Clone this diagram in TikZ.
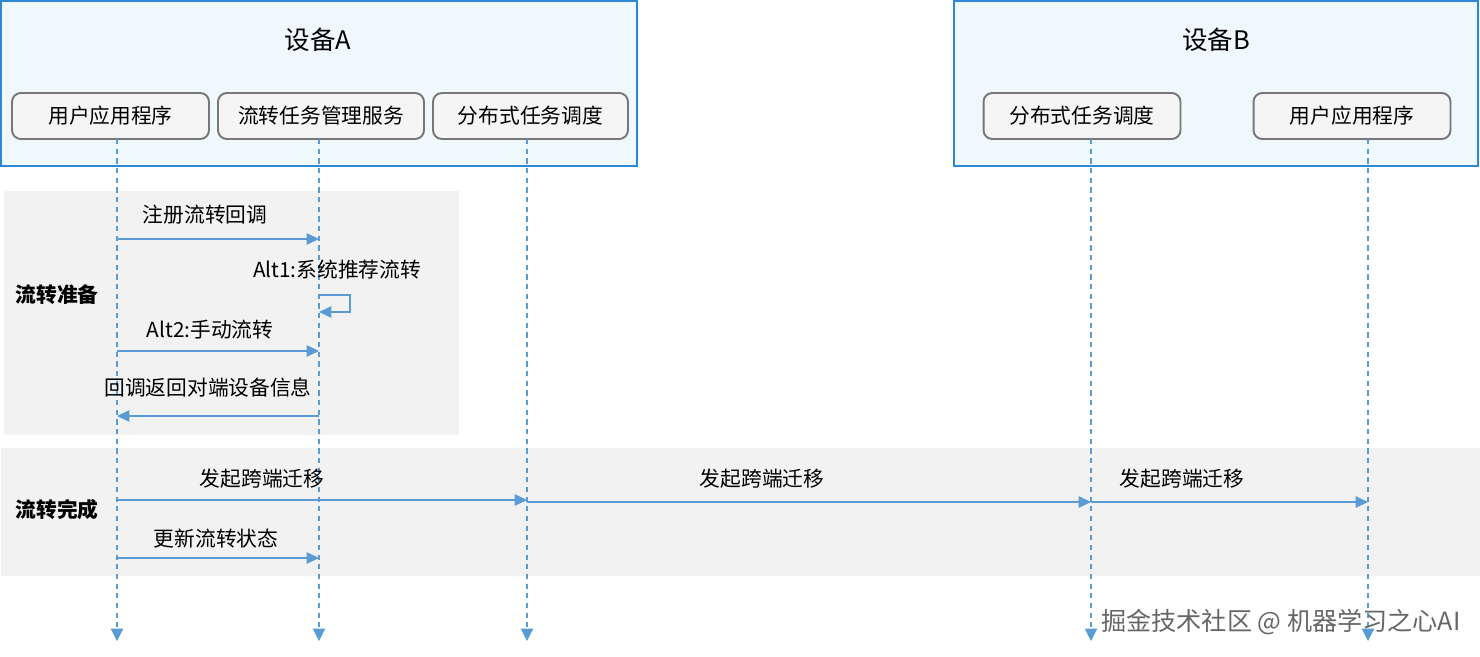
\documentclass[tikz,border=0pt]{standalone}
\usepackage{fontspec}
\setmainfont{Noto Sans CJK SC}
\usetikzlibrary{arrows.meta,positioning}
\definecolor{frameblue}{HTML}{2F88D5}
\definecolor{framefill}{HTML}{EEF8FD}
\definecolor{lifeblue}{HTML}{5B9BD5}
\definecolor{bandgray}{HTML}{F2F2F2}
\definecolor{boxgray}{HTML}{F5F5F5}
\definecolor{boxline}{HTML}{777777}

\begin{document}
\begin{tikzpicture}[x=0.02cm, y=-0.02cm,
  actor/.style={draw=boxline, line width=1.1pt, rounded corners=5pt, fill=boxgray,
                minimum width=3.94cm, minimum height=0.92cm, inner sep=0pt,
                font=\fontsize{11.8}{14}\selectfont},
  life/.style={lifeblue, line width=0.6pt, dash pattern=on 3pt off 2.5pt,
               -{Triangle[length=7pt,width=7pt]}},
  msg/.style={lifeblue, line width=0.7pt, -{Triangle[length=7pt,width=6.5pt]}},
  lbl/.style={font=\fontsize{11.8}{14}\selectfont, inner sep=0pt},
  phase/.style={font=\fontsize{11.8}{14}\selectfont\bfseries, inner sep=0pt},
]
  \useasboundingbox (0,0) rectangle (1480,656);
  % device frames
  \draw[frameblue, line width=1.2pt, fill=framefill] (1,1) rectangle (637,166);
  \draw[frameblue, line width=1.2pt, fill=framefill] (954,1) rectangle (1478,166);
  \node[font=\fontsize{14.5}{17}\selectfont] (devA) at (318,40) {设备A};
  \node[font=\fontsize{14.5}{17}\selectfont] (devB) at (1216,40) {设备B};
  % phase bands
  \fill[bandgray] (4,191) rectangle (459,435);
  \fill[bandgray] (1,448) rectangle (1480,576);
  \node[phase] (prep) at (57,295) {流转准备};
  \node[phase] (done) at (57,510) {流转完成};
  % participants
  \node[actor] (appA) at (110.5,116) {用户应用程序};
  \node[actor, minimum width=4.12cm] (mgrA) at (321,116) {流转任务管理服务};
  \node[actor, minimum width=3.9cm] (schA) at (530.5,116) {分布式任务调度};
  \node[actor] (schB) at (1082,116) {分布式任务调度};
  \node[actor] (appB) at (1352,116) {用户应用程序};
  % lifelines
  \coordinate (lA1) at (117,139);
  \coordinate (lA2) at (319,139);
  \coordinate (lA3) at (527,139);
  \coordinate (lB1) at (1091,139);
  \coordinate (lB2) at (1368,139);
  \coordinate (bot) at (0,641);
  \foreach \l in {lA1,lA2,lA3,lB1,lB2}
    \draw[life] (\l) -- (\l |- bot);
  % message rows
  \coordinate (m1) at (0,239);
  \coordinate (s1) at (0,295);
  \coordinate (s2) at (0,312);
  \coordinate (m2) at (0,351);
  \coordinate (m3) at (0,416);
  \coordinate (m4) at (0,500);
  \coordinate (m5) at (0,502);
  \coordinate (m6) at (0,558);
  % preparation
  \node[lbl] (t1) at (205,215) {注册流转回调};
  \draw[msg] (lA1 |- m1) -- (lA2 |- m1);
  \node[lbl] (t2) at (337,270) {Alt1:系统推荐流转};
  \draw[msg] (lA2 |- s1) -- ++(31,0) |- (lA2 |- s2);
  \node[lbl] (t3) at (210,330) {Alt2:手动流转};
  \draw[msg] (lA1 |- m2) -- (lA2 |- m2);
  \node[lbl] (t4) at (208,388) {回调返回对端设备信息};
  \draw[msg] (lA2 |- m3) -- (lA1 |- m3);
  % completion
  \node[lbl] (t5) at (262,479) {发起跨端迁移};
  \draw[msg] (lA1 |- m4) -- (lA3 |- m4);
  \node[lbl] (t6) at (762,479) {发起跨端迁移};
  \draw[msg] (lA3 |- m5) -- (lB1 |- m5);
  \node[lbl] (t7) at (1182,479) {发起跨端迁移};
  \draw[msg] (lB1 |- m5) -- (lB2 |- m5);
  \node[lbl] (t8) at (216,539) {更新流转状态};
  \draw[msg] (lA1 |- m6) -- (lA2 |- m6);
  % watermark
  \node[font=\fontsize{14.3}{17}\selectfont, text=black!60, inner sep=0pt] (wm) at (1281,622)
    {掘金技术社区 @ 机器学习之心AI};
\end{tikzpicture}
\end{document}
